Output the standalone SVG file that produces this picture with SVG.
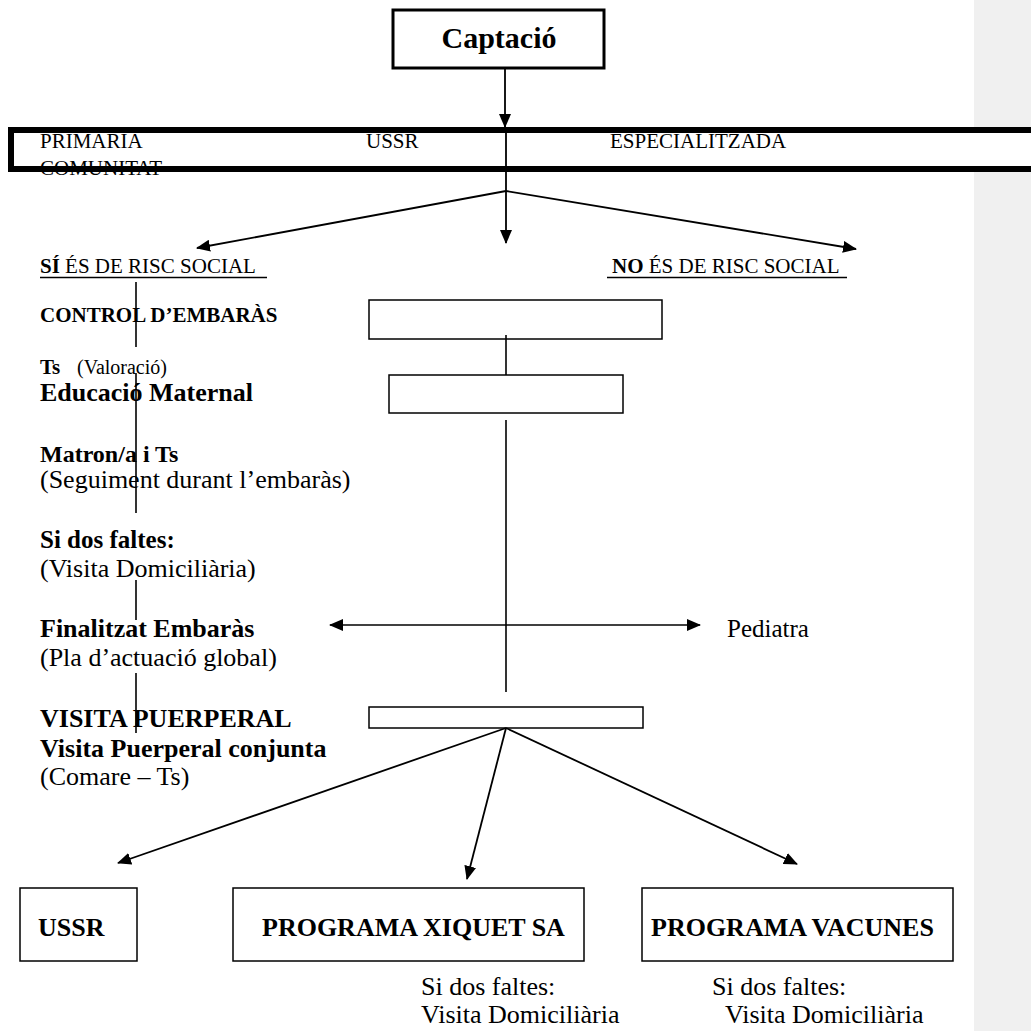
<svg xmlns="http://www.w3.org/2000/svg" width="1031" height="1031" viewBox="0 0 1031 1031">
<style>
text{font-family:"Liberation Serif","Times New Roman",serif;fill:#000}
.b{font-weight:bold}
.box{fill:#fff;stroke:#000;stroke-width:1.5}
.ln{stroke:#000;stroke-width:1.6;fill:none}
.ar{stroke:#000;stroke-width:1.8;fill:none;marker-end:url(#ah)}
</style>
<defs>
<marker id="ah" markerUnits="userSpaceOnUse" markerWidth="14" markerHeight="12" refX="13" refY="6" orient="auto">
<path d="M0,0 L14,6 L0,12 z" fill="#000"/>
</marker>
<marker id="as" markerUnits="userSpaceOnUse" markerWidth="14" markerHeight="12" refX="1" refY="6" orient="auto">
<path d="M14,0 L0,6 L14,12 z" fill="#000"/>
</marker>
</defs>
<rect x="974" y="0" width="57" height="1031" fill="#f0f0f0"/>

<g id="captacio">
<rect x="393" y="10" width="211" height="58" fill="#fff" stroke="#000" stroke-width="3"/>
<text class="b" x="499" y="48" font-size="30" text-anchor="middle">Captació</text>
</g>

<g id="nivells">
<rect x="11" y="130" width="1040" height="39" fill="#fff"/>
<text x="40" y="148" font-size="21">PRIMARIA</text>
<text x="366" y="148" font-size="21">USSR</text>
<text x="610" y="148" font-size="21">ESPECIALITZADA</text>
<text x="40" y="175" font-size="21">COMUNITAT</text>
<rect x="11" y="130" width="1040" height="39" fill="none" stroke="#000" stroke-width="6"/>
</g>

<g id="si-risc">
<text x="40" y="273" font-size="21"><tspan class="b">SÍ</tspan> ÉS DE RISC SOCIAL</text>
<line x1="40" y1="277.5" x2="267" y2="277.5" stroke="#000" stroke-width="1.3"/>
</g>
<g id="no-risc">
<text x="612" y="273" font-size="21"><tspan class="b">NO</tspan> ÉS DE RISC SOCIAL</text>
<line x1="607" y1="277.5" x2="847" y2="277.5" stroke="#000" stroke-width="1.3"/>
</g>

<g id="left-column">
<text class="b" x="40" y="322" font-size="21">CONTROL D’EMBARÀS</text>
<text x="40" y="374"><tspan class="b" font-size="21">Ts</tspan><tspan x="77" font-size="20">(Valoració)</tspan></text>
<text class="b" x="40" y="401" font-size="26">Educació Maternal</text>
<text class="b" x="40" y="462" font-size="24">Matron/a i Ts</text>
<text x="40" y="488" font-size="26">(Seguiment durant l’embaràs)</text>
<text class="b" x="40" y="548" font-size="25">Si dos faltes:</text>
<text x="40" y="577" font-size="26">(Visita Domiciliària)</text>
<text class="b" x="40" y="637" font-size="26">Finalitzat Embaràs</text>
<text x="40" y="666" font-size="26">(Pla d’actuació global)</text>
<text class="b" x="40" y="727" font-size="26">VISITA PUERPERAL</text>
<text class="b" x="40" y="757" font-size="26">Visita Puerperal conjunta</text>
<text x="40" y="785" font-size="26">(Comare – Ts)</text>
</g>

<g id="box-control"><rect class="box" x="369" y="300" width="293" height="39"/></g>
<g id="box-educacio"><rect class="box" x="389" y="375" width="234" height="38"/></g>
<g id="box-puerperal"><rect class="box" x="369" y="707" width="274" height="21"/></g>

<g id="pediatra"><text x="727" y="637" font-size="25">Pediatra</text></g>

<g id="box-ussr">
<rect class="box" x="20" y="888" width="117" height="73"/>
<text class="b" x="38" y="936" font-size="26">USSR</text>
</g>
<g id="box-xiquet">
<rect class="box" x="233" y="888" width="351" height="73"/>
<text class="b" x="262" y="936" font-size="26">PROGRAMA XIQUET SA</text>
</g>
<g id="box-vacunes">
<rect class="box" x="642" y="888" width="311" height="73"/>
<text class="b" x="651" y="936" font-size="26">PROGRAMA VACUNES</text>
</g>
<g id="notes">
<text x="421" y="995" font-size="26">Si dos faltes:</text>
<text x="421" y="1023" font-size="26">Visita Domiciliària</text>
<text x="712" y="995" font-size="26">Si dos faltes:</text>
<text x="725" y="1023" font-size="26">Visita Domiciliària</text>
</g>

<g id="connectors">
<line class="ar" x1="505" y1="68" x2="505" y2="127"/>
<line class="ar" x1="506" y1="133" x2="506" y2="243"/>
<line class="ar" x1="506" y1="191" x2="197" y2="248"/>
<line class="ar" x1="506" y1="191" x2="856" y2="249"/>
<line class="ln" x1="506" y1="335" x2="506" y2="375"/>
<line class="ln" x1="506" y1="420" x2="506" y2="692"/>
<line class="ln" x1="330" y1="625" x2="700" y2="625" marker-start="url(#as)" marker-end="url(#ah)"/>
<line class="ar" x1="506" y1="728" x2="118" y2="863"/>
<line class="ar" x1="506" y1="728" x2="467" y2="879"/>
<line class="ar" x1="506" y1="728" x2="797" y2="864"/>
<line class="ln" x1="136" y1="282" x2="136" y2="347"/>
<line class="ln" x1="136" y1="373" x2="136" y2="513"/>
<line class="ln" x1="136" y1="580" x2="136" y2="620"/>
<line class="ln" x1="136" y1="673" x2="136" y2="733"/>
</g>
</svg>
